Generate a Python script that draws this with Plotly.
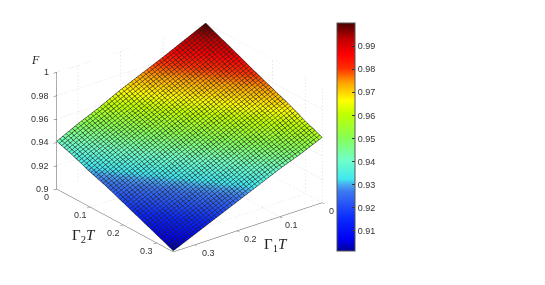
import plotly.graph_objects as go

gamma1 = [0, 0.05, 0.10, 0.15, 0.20, 0.25, 0.30, 0.35]
gamma2 = [0, 0.05, 0.10, 0.15, 0.20, 0.25, 0.30, 0.35]
fidelity = [
    [1.000, 0.9915, 0.983, 0.975, 0.967, 0.958, 0.950, 0.941],
    [0.9937, 0.985, 0.977, 0.969, 0.960, 0.952, 0.944, 0.936],
    [0.9875, 0.979, 0.971, 0.963, 0.955, 0.947, 0.939, 0.930],
    [0.981, 0.973, 0.965, 0.957, 0.949, 0.941, 0.933, 0.925],
    [0.975, 0.967, 0.959, 0.951, 0.943, 0.935, 0.927, 0.919],
    [0.969, 0.961, 0.953, 0.945, 0.937, 0.929, 0.921, 0.913],
    [0.962, 0.954, 0.947, 0.939, 0.931, 0.923, 0.915, 0.907],
    [0.956, 0.948, 0.941, 0.933, 0.925, 0.917, 0.909, 0.901],
]
g_ticks = [0, 0.1, 0.2, 0.3]
g_ticklabels = ["0", "0.1", "0.2", "0.3"]
g_max = 0.35
f_ticks = [0.9, 0.92, 0.94, 0.96, 0.98, 1]
f_ticklabels = ["0.9", "0.92", "0.94", "0.96", "0.98", "1"]
cb_ticks = [0.91, 0.92, 0.93, 0.94, 0.95, 0.96, 0.97, 0.98, 0.99]
jet = [
    [0.0, "#00009a"], [0.05, "#0000f0"], [0.14, "#0a28ff"], [0.26, "#3c78f0"],
    [0.29, "#48a8f0"], [0.315, "#40e8f0"], [0.40, "#70ffc8"], [0.50, "#88ff50"],
    [0.60, "#c0ff00"], [0.66, "#ffff00"], [0.74, "#ffa000"], [0.80, "#ff3000"],
    [0.86, "#ff0000"], [0.93, "#c00000"], [1.0, "#4a0000"],
]
TEXT = "#333333"
AXIS = "#555555"
GRID = "#cccccc"
MESH_CELLS = 48
G1_LABEL_DX = [9, 12, 13, 14]

fig = go.Figure()
fig.add_trace(go.Surface(
    x=gamma1, y=gamma2, z=fidelity, colorscale=jet, cmin=0.9013, cmax=1.0,
    lighting=dict(ambient=1, diffuse=0, specular=0, roughness=1, fresnel=0),
    hoverinfo="skip",
    contours=dict(
        x=dict(show=True, start=0, end=g_max, size=g_max / MESH_CELLS, color="#202020", width=2, highlight=False),
        y=dict(show=True, start=0, end=g_max, size=g_max / MESH_CELLS, color="#202020", width=2, highlight=False),
        z=dict(highlight=False),
    ),
    colorbar=dict(
        x=329 / 545, xanchor="left", y=1 - 129 / 285, yanchor="middle",
        len=228 / 285, lenmode="fraction", thickness=18, thicknessmode="pixels",
        xpad=0, ypad=0, outlinecolor=AXIS, outlinewidth=1,
        tickvals=cb_ticks, ticktext=[f"{v:.2f}" for v in cb_ticks],
        ticks="inside", ticklen=3, tickcolor="#333333",
        tickfont=dict(family="Liberation Sans", size=9, color=TEXT),
    ),
))

def dotted(xs, ys, zs):
    fig.add_trace(go.Scatter3d(x=xs, y=ys, z=zs, mode="lines", hoverinfo="skip", showlegend=False,
                               line=dict(color=GRID, width=1, dash="dot")))
for t in g_ticks[1:] + [g_max]:
    dotted([t, t], [0, 0], [0.9, 1])
    dotted([0, 0], [t, t], [0.9, 1])
    dotted([t, t], [0, g_max], [0.9, 0.9])
    dotted([0, g_max], [t, t], [0.9, 0.9])
for f in f_ticks:
    dotted([0, g_max], [0, 0], [f, f])
    dotted([0, 0], [0, g_max], [f, f])
dotted([0, 0], [0, 0], [0.9, 1])

axis = dict(showgrid=False, showbackground=False, zeroline=False, showspikes=False,
            showline=True, linecolor=AXIS, linewidth=1, ticks="inside", ticklen=4,
            tickcolor=AXIS, showticklabels=False)

def label(x, y, z, text, dx, dy, anchor="center"):
    return dict(x=x, y=y, z=z, text=text, showarrow=False, xshift=dx, yshift=dy, xanchor=anchor,
                font=dict(family="Liberation Sans", size=9, color=TEXT))

scene_labels = (
    [label(g_max, 0, f, t, -6, 0, "right") for f, t in zip(f_ticks, f_ticklabels)]
    + [label(g_max, v, 0.9, t, -10, -8) for v, t in zip(g_ticks, g_ticklabels)]
    + [label(v, g_max, 0.9, t, dx, -8) for v, t, dx in zip(g_ticks, g_ticklabels, G1_LABEL_DX)]
)

fig.update_layout(
    width=545, height=285, margin=dict(l=0, r=0, t=0, b=0),
    paper_bgcolor="white", showlegend=False,
    scene=dict(
        domain=dict(x=[0, 363 / 545], y=[1 - 259 / 285, 1]),
        aspectmode="manual", aspectratio=dict(x=1.46, y=1.46, z=0.995),
        camera=dict(eye=dict(x=0.804, y=1.027, z=0.607), up=dict(x=0, y=0, z=1),
                    center=dict(x=0, y=0, z=0), projection=dict(type="orthographic")),
        xaxis=dict(axis, range=[0, g_max], tickvals=g_ticks, title=dict(text="")),
        yaxis=dict(axis, range=[0, g_max], tickvals=g_ticks, title=dict(text="")),
        zaxis=dict(axis, range=[0.9, 1], tickvals=f_ticks, title=dict(text="")),
        annotations=scene_labels,
    ),
    annotations=[
        dict(text="<i>F</i>", x=27 / 545, y=1 - 52 / 285, xref="paper", yref="paper", showarrow=False,
             xanchor="center", yanchor="middle", font=dict(family="Liberation Serif", size=12, color="#222222")),
        dict(text="Γ<sub>2</sub><i>T</i>", x=76 / 545, y=1 - 228 / 285, xref="paper", yref="paper", showarrow=False,
             xanchor="center", yanchor="middle", font=dict(family="Liberation Serif", size=15, color="#222222")),
        dict(text="Γ<sub>1</sub><i>T</i>", x=268 / 545, y=1 - 237 / 285, xref="paper", yref="paper", showarrow=False,
             xanchor="center", yanchor="middle", font=dict(family="Liberation Serif", size=15, color="#222222")),
    ],
)
fig.write_html("out.html")
